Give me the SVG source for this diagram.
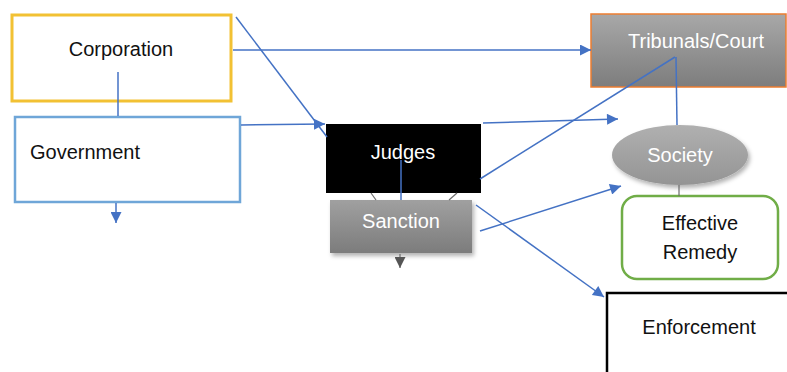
<svg xmlns="http://www.w3.org/2000/svg" width="787" height="372" viewBox="0 0 787 372">
<style>
  text { font-family: "Liberation Sans", Arial, sans-serif; font-size: 20px; }
  .dark { fill: #111; }
  .light { fill: #fff; }
  .conn { stroke: #4472C4; stroke-width: 1.5; fill: none; }
  .grey { stroke: #6b6b6b; stroke-width: 1.2; fill: none; }
</style>
<defs>
  <marker id="ah" viewBox="0 0 10 10" refX="10" refY="5" markerWidth="13" markerHeight="11" markerUnits="userSpaceOnUse" orient="auto">
    <path d="M0,0 L10,5 L0,10 z" fill="#4472C4"/>
  </marker>
  <marker id="ahg" viewBox="0 0 10 10" refX="10" refY="5" markerWidth="12" markerHeight="11" markerUnits="userSpaceOnUse" orient="auto">
    <path d="M0,0 L10,5 L0,10 z" fill="#555"/>
  </marker>
  <linearGradient id="gTrib" x1="0" y1="0" x2="0" y2="1">
    <stop offset="0" stop-color="#a8a8a8"/>
    <stop offset="1" stop-color="#7d7d7d"/>
  </linearGradient>
  <linearGradient id="gSanc" x1="0" y1="0" x2="0" y2="1">
    <stop offset="0" stop-color="#a0a0a0"/>
    <stop offset="1" stop-color="#7c7c7c"/>
  </linearGradient>
  <linearGradient id="gSoc" x1="0" y1="0" x2="0" y2="1">
    <stop offset="0" stop-color="#b0b0b0"/>
    <stop offset="1" stop-color="#949494"/>
  </linearGradient>
  <filter id="sh" x="-10%" y="-10%" width="125%" height="130%">
    <feDropShadow dx="2" dy="3" stdDeviation="2" flood-color="#000" flood-opacity="0.3"/>
  </filter>
</defs>

<g id="corporation">
  <rect x="12" y="15" width="219" height="86" fill="#fff" stroke="#F2C133" stroke-width="3"/>
  <text class="dark" x="121" y="56" text-anchor="middle">Corporation</text>
</g>

<g id="government">
  <rect x="15" y="117" width="225" height="85" fill="#fff" stroke="#6FA6D8" stroke-width="2.5"/>
  <text class="dark" x="30" y="159">Government</text>
</g>

<g id="judges">
  <rect x="326" y="124" width="155" height="69" fill="#000"/>
  <text class="light" x="403" y="159" text-anchor="middle">Judges</text>
</g>

<g id="sanction">
  <rect x="330" y="200" width="142" height="53" fill="url(#gSanc)" filter="url(#sh)"/>
  <text class="light" x="401" y="228" text-anchor="middle">Sanction</text>
</g>

<g id="tribunals">
  <rect x="591" y="14" width="195" height="73" fill="url(#gTrib)" stroke="#ED7D31" stroke-width="1.5"/>
  <text class="light" x="696" y="48" text-anchor="middle">Tribunals/Court</text>
</g>

<g id="society">
  <ellipse cx="680" cy="155" rx="68" ry="30" fill="url(#gSoc)" filter="url(#sh)"/>
  <text class="light" x="680" y="162" text-anchor="middle">Society</text>
</g>

<g id="remedy">
  <rect x="622" y="196" width="156" height="83" rx="15" ry="15" fill="#fff" stroke="#70AD47" stroke-width="2.5"/>
  <text class="dark" x="700" y="230" text-anchor="middle">Effective</text>
  <text class="dark" x="700" y="259" text-anchor="middle">Remedy</text>
</g>

<g id="enforcement">
  <rect x="607" y="293" width="190" height="90" fill="#fff" stroke="#000" stroke-width="2.5"/>
  <text class="dark" x="699" y="334" text-anchor="middle">Enforcement</text>
</g>

<g id="connectors">
  <line class="conn" x1="118" y1="72" x2="118" y2="116"/>
  <line class="conn" x1="116" y1="203" x2="116" y2="223" marker-end="url(#ah)"/>
  <line class="conn" x1="233" y1="50" x2="591" y2="50" marker-end="url(#ah)"/>
  <line class="conn" x1="236" y1="17" x2="327" y2="137"/>
  <line class="conn" x1="241" y1="125" x2="325" y2="124" marker-end="url(#ah)"/>
  <line class="conn" x1="483" y1="123" x2="618" y2="119" marker-end="url(#ah)"/>
  <line class="conn" x1="675" y1="57" x2="480" y2="179"/>
  <line class="conn" x1="676" y1="57" x2="677" y2="125"/>
  <line class="conn" x1="401" y1="160" x2="401" y2="200"/>
  <line class="grey" x1="371" y1="193" x2="376" y2="200"/>
  <line class="grey" x1="457" y1="193" x2="449" y2="200"/>
  <line class="grey" x1="400" y1="254" x2="400" y2="268" marker-end="url(#ahg)"/>
  <line class="grey" x1="679" y1="185" x2="679" y2="196"/>
  <line class="conn" x1="480" y1="231" x2="621" y2="186" marker-end="url(#ah)"/>
  <line class="conn" x1="476" y1="205" x2="604" y2="297" marker-end="url(#ah)"/>
</g>
</svg>
